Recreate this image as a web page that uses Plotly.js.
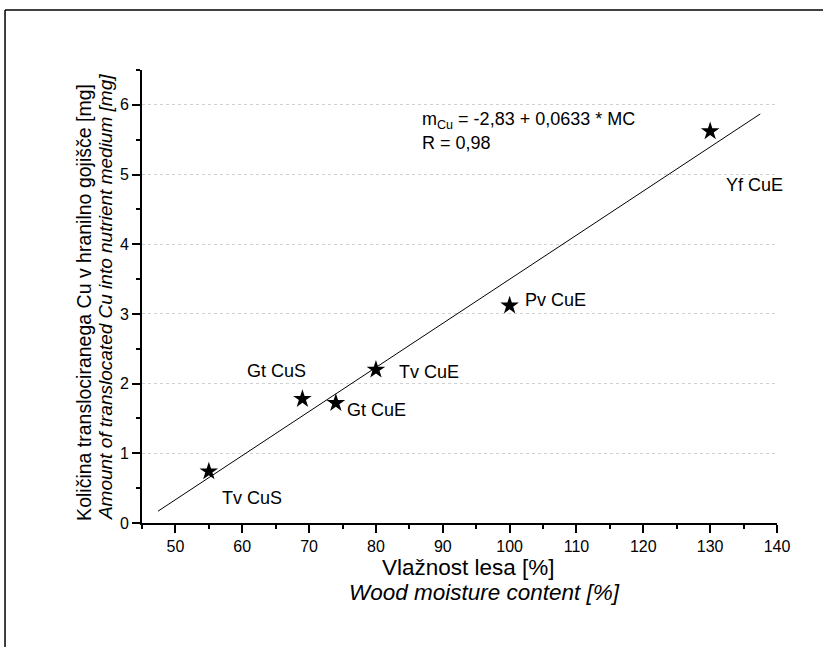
<!DOCTYPE html>
<html>
<head>
<meta charset="utf-8">
<script src="https://cdn.plot.ly/plotly-3.0.1.min.js"></script>
<style>html,body{margin:0;padding:0;background:#fff;}#chart{width:823px;height:647px;}</style>
</head>
<body>
<div id="chart"></div>
<script>
// Data
var sampleNames = ["Tv CuS", "Gt CuS", "Gt CuE", "Tv CuE", "Pv CuE", "Yf CuE"];
var moisture = [55, 69, 74, 80, 100, 130];
var copperAmount = [0.74, 1.78, 1.72, 2.2, 3.12, 5.62];

// Regression line end points (m_Cu = -2,83 + 0,0633 * MC)
var fitX = [47.4, 137.5];
var fitY = [0.17, 5.87];

// Label anchor positions (data coords) for the sample names
var labelX = [56.7, 60.4, 75.4, 83.2, 102.0, 132.1];
var labelY = [0.36, 2.18, 1.62, 2.17, 3.2, 4.85];

var xTicks = [50, 60, 70, 80, 90, 100, 110, 120, 130, 140];
var yTicks = [0, 1, 2, 3, 4, 5, 6];

var xTitle1 = "Vlažnost lesa [%]";
var xTitle2 = "Wood moisture content [%]";
var yTitle1 = "Količina translociranega Cu v hranilno gojišče [mg]";
var yTitle2 = "Amount of translocated Cu into nutrient medium [mg]";

var FONT = "Liberation Sans, Arial, sans-serif";

var traces = [
  {
    x: fitX, y: fitY, type: "scatter", mode: "lines",
    line: {color: "black", width: 1}, hoverinfo: "skip", showlegend: false
  },
  {
    x: moisture, y: copperAmount, type: "scatter", mode: "markers",
    text: sampleNames,
    marker: {symbol: "star", size: 14, color: "black", line: {width: 0}},
    showlegend: false
  }
];

var annotations = sampleNames.map(function (n, i) {
  return {
    x: labelX[i], y: labelY[i], xref: "x", yref: "y", text: n,
    showarrow: false, xanchor: "left", yanchor: "middle",
    font: {family: FONT, size: 18, color: "black"}
  };
});
annotations.push({
  x: 86.6, y: 5.78, xref: "x", yref: "y",
  text: "m<sub style='font-size:9px'>Cu</sub> = -2,83 + 0,0633 * MC",
  showarrow: false, xanchor: "left", yanchor: "middle",
  font: {family: FONT, size: 18, color: "black"}
});
annotations.push({
  x: 86.6, y: 5.45, xref: "x", yref: "y",
  text: "R = 0,98",
  showarrow: false, xanchor: "left", yanchor: "middle",
  font: {family: FONT, size: 18, color: "black"}
});
// axis titles (two lines each, placed separately)
annotations.push({
  x: 0.5134, y: -0.0993, xref: "paper", yref: "paper", text: xTitle1,
  showarrow: false, xanchor: "center", yanchor: "middle",
  font: {family: FONT, size: 22.5, color: "black"}
});
annotations.push({
  x: 0.5386, y: -0.1545, xref: "paper", yref: "paper", text: "<i>" + xTitle2 + "</i>",
  showarrow: false, xanchor: "center", yanchor: "middle",
  font: {family: FONT, size: 22.5, color: "black"}
});
annotations.push({
  x: -0.0915, y: 0.4879, xref: "paper", yref: "paper", text: yTitle1,
  showarrow: false, xanchor: "center", yanchor: "middle", textangle: -90,
  font: {family: FONT, size: 19.5, color: "black"}
});
annotations.push({
  x: -0.0565, y: 0.4989, xref: "paper", yref: "paper", text: "<i>" + yTitle2 + "</i>",
  showarrow: false, xanchor: "center", yanchor: "middle", textangle: -90,
  font: {family: FONT, size: 19, color: "black"}
});

var layout = {
  width: 823, height: 647,
  margin: {l: 142, r: 46, t: 70, b: 124, pad: 0},
  paper_bgcolor: "white", plot_bgcolor: "white",
  font: {family: FONT, color: "black"},
  showlegend: false,
  xaxis: {
    range: [45, 140], tickvals: xTicks, ticktext: xTicks.map(String),
    ticks: "outside", ticklen: 8, tickwidth: 2, tickcolor: "black",
    showline: true, linecolor: "black", linewidth: 2,
    showgrid: false, zeroline: false,
    tickfont: {family: FONT, size: 16, color: "black"},
    minor: {dtick: 5, tick0: 45, ticks: "outside", ticklen: 4, tickwidth: 2, tickcolor: "black", showgrid: false}
  },
  yaxis: {
    range: [0, 6.5], tickvals: yTicks, ticktext: yTicks.map(String),
    ticks: "outside", ticklen: 8, tickwidth: 2, tickcolor: "black",
    showline: true, linecolor: "black", linewidth: 2,
    showgrid: true, gridcolor: "#d0d0d0", griddash: "dot", gridwidth: 1,
    zeroline: false,
    tickfont: {family: FONT, size: 16, color: "black"},
    minor: {dtick: 0.5, tick0: 0, ticks: "outside", ticklen: 4, tickwidth: 2, tickcolor: "black", showgrid: false}
  },
  annotations: annotations,
  shapes: [
    {type: "line", xref: "paper", yref: "paper", x0: -0.2157, x1: 1.2, y0: 1.1325, y1: 1.1325, line: {color: "black", width: 1.5}},
    {type: "line", xref: "paper", yref: "paper", x0: -0.2157, x1: -0.2157, y0: 1.1325, y1: -0.4, line: {color: "black", width: 1.5}}
  ]
};

Plotly.newPlot("chart", traces, layout, {displayModeBar: false, staticPlot: true});
</script>
</body>
</html>
